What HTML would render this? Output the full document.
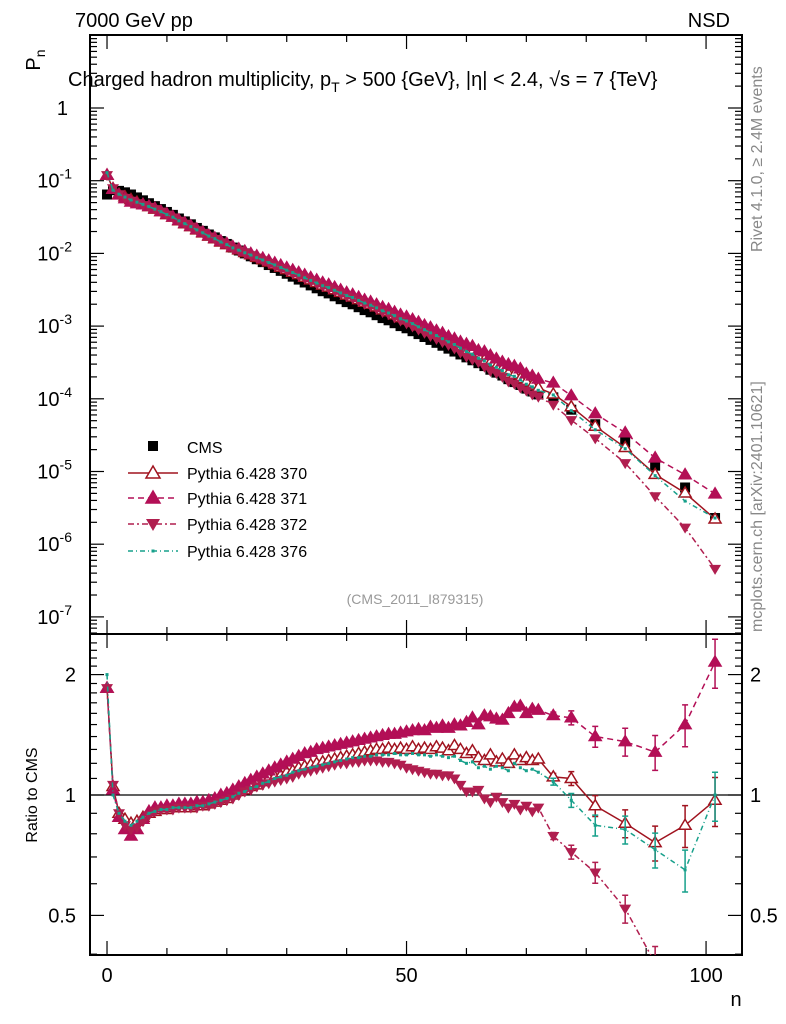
<!DOCTYPE html>
<html><head><meta charset="utf-8"><style>
html,body{margin:0;padding:0;background:#fff;overflow:hidden;width:786px;height:1024px;}
svg{display:block;}
svg text{font-family:"Liberation Sans",sans-serif;}
</style></head><body>
<svg id="c" width="786" height="1024" xmlns="http://www.w3.org/2000/svg"></svg>
<script>
const nVals=[0,1,2,3,4,5,6,7,8,9,10,11,12,13,14,15,16,17,18,19,20,21,22,23,24,25,26,27,28,29,30,31,32,33,34,35,36,37,38,39,40,41,42,43,44,45,46,47,48,49,50,51,52,53,54,55,56,57,58,59,60,61,62,63,64,65,66,67,68,69,70,71,72,74.5,77.5,81.5,86.5,91.5,96.5,101.5];
const cmsLog=[-1.19,-1.13,-1.14,-1.16,-1.19,-1.23,-1.27,-1.31,-1.35,-1.39,-1.43,-1.47,-1.52,-1.56,-1.60,-1.65,-1.69,-1.74,-1.78,-1.83,-1.87,-1.92,-1.96,-2.00,-2.04,-2.08,-2.12,-2.16,-2.20,-2.24,-2.28,-2.32,-2.36,-2.40,-2.44,-2.48,-2.52,-2.55,-2.59,-2.63,-2.67,-2.70,-2.74,-2.78,-2.81,-2.85,-2.89,-2.92,-2.96,-3.00,-3.03,-3.07,-3.11,-3.15,-3.19,-3.23,-3.27,-3.31,-3.35,-3.39,-3.43,-3.47,-3.51,-3.55,-3.60,-3.64,-3.68,-3.73,-3.77,-3.81,-3.86,-3.90,-3.94,-3.98,-4.15,-4.35,-4.60,-4.92,-5.22,-5.64];
const r370=[1.85,1.05,0.90,0.87,0.85,0.86,0.88,0.90,0.91,0.92, 0.92,0.93,0.93,0.93,0.93,0.94,0.94,0.95,0.96,0.97, 0.98,1.00,1.02,1.03,1.05,1.06,1.08,1.10,1.11,1.12, 1.14,1.15,1.17,1.18,1.19,1.20,1.21,1.22,1.23,1.24, 1.25,1.26,1.27,1.28,1.29,1.30,1.30,1.31,1.30,1.31, 1.30,1.32,1.30,1.31,1.30,1.32,1.31,1.29,1.33,1.30, 1.27,1.29,1.24,1.22,1.26,1.21,1.23,1.20,1.26,1.22, 1.24,1.22,1.23, 1.11,1.10,0.94,0.85,0.76,0.84,0.97];
const r371=[1.85,1.03,0.88,0.82,0.79,0.82,0.87,0.91,0.93,0.93, 0.94,0.94,0.95,0.95,0.95,0.96,0.96,0.97,0.98,1.00, 1.01,1.03,1.05,1.07,1.09,1.11,1.13,1.15,1.17,1.19, 1.21,1.23,1.25,1.27,1.28,1.30,1.31,1.32,1.33,1.34, 1.35,1.36,1.37,1.38,1.39,1.40,1.41,1.42,1.42,1.43, 1.44,1.45,1.46,1.45,1.48,1.47,1.49,1.47,1.50,1.49, 1.52,1.56,1.50,1.58,1.57,1.55,1.54,1.60,1.66,1.67, 1.60,1.64,1.63, 1.58,1.56,1.40,1.36,1.28,1.50,2.15];
const r372=[1.85,1.06,0.90,0.84,0.82,0.83,0.86,0.89,0.91,0.92, 0.92,0.92,0.93,0.93,0.93,0.93,0.94,0.94,0.95,0.96, 0.97,0.98,1.00,1.02,1.03,1.05,1.06,1.07,1.08,1.09, 1.10,1.11,1.13,1.14,1.15,1.16,1.17,1.18,1.19,1.20, 1.20,1.21,1.21,1.22,1.22,1.22,1.21,1.21,1.20,1.19, 1.17,1.16,1.15,1.14,1.13,1.13,1.12,1.12,1.10,1.06, 1.02,1.02,1.03,0.98,0.96,0.99,0.96,0.93,0.95,0.92, 0.94,0.91,0.93, 0.79,0.72,0.64,0.52,0.38,0.28,0.20];
const r376=[2.00,1.00,0.90,0.86,0.84,0.86,0.88,0.90,0.91,0.92, 0.92,0.93,0.93,0.93,0.93,0.94,0.94,0.95,0.96,0.97, 0.98,0.99,1.01,1.02,1.04,1.05,1.07,1.08,1.10,1.11, 1.12,1.14,1.15,1.16,1.17,1.18,1.19,1.20,1.21,1.22, 1.23,1.24,1.24,1.25,1.25,1.26,1.26,1.26,1.27,1.26, 1.26,1.27,1.26,1.26,1.25,1.26,1.25,1.24,1.25,1.22, 1.20,1.21,1.17,1.18,1.16,1.18,1.17,1.15,1.20,1.17, 1.15,1.16,1.14, 1.08,0.97,0.84,0.82,0.73,0.65,1.00];
const xTicks=[0,50,100];
const yMainTicks=[1,-1,-2,-3,-4,-5,-6,-7];
const yRatioTicks=[2,1,0.5];

const svg=document.getElementById('c');
const NS='http://www.w3.org/2000/svg';
const L=90,R=742,T=35,MB=634,B=955;
const xmin=-2.84,xmax=106;
const X=n=>L+(n-xmin)/(xmax-xmin)*(R-L);
const YM=lg=>108-lg*72.7;
const YR=r=>795-400*Math.log10(r);
function mk(tag,attrs,parent){const e=document.createElementNS(NS,tag);for(const k in attrs)e.setAttribute(k,attrs[k]);(parent||svg).appendChild(e);return e;}
function txt(s,x,y,size,anchor,fill,parent,rot){const e=mk('text',{x:x,y:y,'font-size':size,'text-anchor':anchor||'start',fill:fill||'#000'},parent);if(rot)e.setAttribute('transform','rotate(-90 '+x+' '+y+')');e.textContent=s;return e;}

const C370='#a0131f',C371='#b30f56',C372='#b01e4f',C376='#17a08b';
const defs=mk('defs',{});
const cp1=mk('clipPath',{id:'cm'},defs);mk('rect',{x:L,y:T,width:R-L,height:MB-T},cp1);
const cp2=mk('clipPath',{id:'cr'},defs);mk('rect',{x:L,y:MB,width:R-L,height:B-MB},cp2);

let f=mk('rect',{x:L,y:T,width:R-L,height:MB-T,fill:'none',stroke:'#000','stroke-width':2});

f=mk('rect',{x:L,y:MB,width:R-L,height:B-MB,fill:'none',stroke:'#000','stroke-width':2});


const axg=mk('g',{stroke:'#000','stroke-width':1.2});

for(let n=0;n<=100;n+=10){const big=n%50===0;const x=X(n);const h=big?14:7;
 [[T,T+h],[MB,MB-h],[MB,MB+h],[B,B-h]].forEach(p=>mk('line',{x1:x,x2:x,y1:p[0],y2:p[1]},axg));}
xTicks.forEach(v=>{const t=txt(String(v),X(v),982,20,'middle');});
const ayg=mk('g',{stroke:'#000','stroke-width':1.2});

for(let d=-8;d<=1;d++){for(let m=1;m<10;m++){const lg=d+Math.log10(m);const y=YM(lg);if(y<T||y>MB)continue;const h=m===1?14:7;
 mk('line',{x1:L,x2:L+h,y1:y,y2:y},ayg);mk('line',{x1:R,x2:R-h,y1:y,y2:y},ayg);}}
yMainTicks.forEach(v=>{const y=YM(v===1?0:v);let t;
 if(v===1){t=txt('1',68,y+7,20,'end');}else{t=mk('text',{x:72,y:y+7,'font-size':20,'text-anchor':'end'});t.innerHTML='10<tspan dy="-9" font-size="14">'+v+'</tspan>';}
 });
for(let r=0.4;r<=2.5;r+=0.1){const y=YR(r);if(y<MB||y>B)continue;const big=Math.abs(r-1)<1e-6||Math.abs(r-2)<1e-6||Math.abs(r-0.5)<1e-6;const h=big?14:7;
 mk('line',{x1:L,x2:L+h,y1:y,y2:y},ayg);mk('line',{x1:R,x2:R-h,y1:y,y2:y},ayg);}
yRatioTicks.forEach(v=>{const y=YR(v);let t=txt(String(v),76,y+7,20,'end');
 t=txt(String(v),750,y+7,20,'start');});
let ref=mk('line',{x1:L,x2:R,y1:YR(1),y2:YR(1),stroke:'#000','stroke-width':1.2});


function marker(type,x,y,col,g,s){s=s||5;
 if(type==='sq')return mk('rect',{x:x-s,y:y-s,width:2*s,height:2*s,fill:col},g);
 if(type==='up'||type==='upo'){return mk('polygon',{points:`${x},${y-s-1} ${x-s-1},${y+s-1} ${x+s+1},${y+s-1}`,fill:type==='up'?col:'#fff',stroke:col,'stroke-width':1.5},g);}
 if(type==='dn')return mk('polygon',{points:`${x},${y+s+1} ${x-s-1},${y-s+1} ${x+s+1},${y-s+1}`,fill:col},g);
 if(type==='dot')return mk('rect',{x:x-1.5,y:y-1.5,width:3,height:3,fill:col},g);}
const series=[
 {name:'pythia-370',r:r370,col:C370,m:'upo',dash:''},
 {name:'pythia-371',r:r371,col:C371,m:'up',dash:'6,4'},
 {name:'pythia-372',r:r372,col:C372,m:'dn',dash:'6,3,2,3'},
 {name:'pythia-376',r:r376,col:C376,m:'dot',dash:'5,3,1,3'}];
const cg=mk('g',{'clip-path':'url(#cm)'});
nVals.forEach((n,i)=>{const p=marker('sq',X(n),YM(cmsLog[i]),'#000',cg);});
series.forEach(s=>{
 const gm=mk('g',{'clip-path':'url(#cm)'});
 const gr=mk('g',{'clip-path':'url(#cr)'});
 const pm=nVals.map((n,i)=>X(n)+','+YM(cmsLog[i]+Math.log10(s.r[i]))).join(' ');
 const pr=nVals.map((n,i)=>X(n)+','+YR(s.r[i])).join(' ');
 let l=mk('polyline',{points:pm,fill:'none',stroke:s.col,'stroke-width':1.5,'stroke-dasharray':s.dash},gm);
 l=mk('polyline',{points:pr,fill:'none',stroke:s.col,'stroke-width':1.5,'stroke-dasharray':s.dash},gr);
 nVals.forEach((n,i)=>{const x=X(n);
  if(i>=73){const e=(i-72)*0.02*s.r[i];const y1=YR(s.r[i]+e),y2=YR(Math.max(0.05,s.r[i]-e));
   let eb=mk('path',{d:`M${x},${y1}V${y2}M${x-3},${y1}h6M${x-3},${y2}h6`,stroke:s.col,'stroke-width':1.5,fill:'none'},gr);}
  let p=marker(s.m,x,YM(cmsLog[i]+Math.log10(s.r[i])),s.col,gm);
  p=marker(s.m,x,YR(s.r[i]),s.col,gr);});
});
const lg=mk('g',{});
const ly=[447,473,498,524,551];
let e=marker('sq',153,ly[0]-1,'#000',lg);let t=txt('CMS',187,ly[0]+6,16,'start','#000',lg);
series.forEach((s,i)=>{const y=ly[i+1];mk('line',{x1:128,x2:178,y1:y,y2:y,stroke:s.col,'stroke-width':1.5,'stroke-dasharray':s.dash},lg);marker(s.m,153,y,s.col,lg,s.m==='dot'?5:6);
 const tt=txt('Pythia 6.428 '+s.name.slice(-3),187,y+6,16,'start','#000',lg);});
t=txt('7000 GeV pp',75,27,20);
t=txt('NSD',730,27,20,'end');
t=mk('text',{x:40,y:60,'font-size':20,transform:'rotate(-90 40 60)','text-anchor':'middle'});t.innerHTML='P<tspan dy="5" font-size="14">n</tspan>';
t=mk('text',{x:68,y:86,'font-size':20});t.innerHTML='Charged hadron multiplicity, p<tspan dy="6" font-size="14">T</tspan><tspan dy="-6"> &gt; 500 {GeV}, |η| &lt; 2.4, √s = 7 {TeV}</tspan>';
t=txt('Rivet 4.1.0, ≥ 2.4M events',762,252,16,'start','#888',null,true);
t=txt('mcplots.cern.ch [arXiv:2401.10621]',762,632,16,'start','#888',null,true);
t=txt('(CMS_2011_I879315)',415,604,14,'middle','#999');
t=txt('Ratio to CMS',37,795,16,'middle','#000',null,true);
t=txt('n',736,1006,20,'middle');
</script>
</body></html>
